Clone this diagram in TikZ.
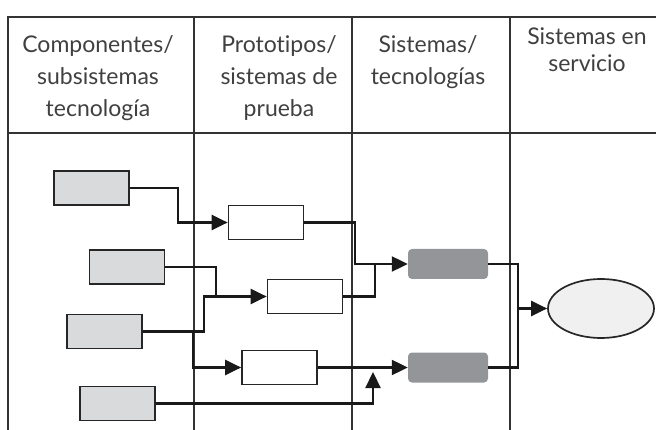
\documentclass[tikz,border=0pt]{standalone}
\usepackage{fontspec}
\setmainfont{Lato}[Ligatures={NoCommon}]
\usetikzlibrary{arrows.meta,shapes.geometric}

\definecolor{compgray}{HTML}{D9DADC}
\definecolor{sistgray}{HTML}{939598}
\definecolor{servgray}{HTML}{F0F0F0}
\definecolor{headtext}{HTML}{404040}

\begin{document}
\begin{tikzpicture}[x=1pt,y=-1pt,
    grid/.style={line width=1.6pt,black!80},
    comp/.style={draw=black!85,line width=1.7pt,fill=compgray,minimum width=75pt,minimum height=34pt,inner sep=0pt},
    proto/.style={draw=black!85,line width=1.7pt,fill=white,minimum width=75pt,minimum height=34pt,inner sep=0pt},
    sist/.style={fill=sistgray,rounded corners=4pt,minimum width=80pt,minimum height=30pt,inner sep=0pt},
    serv/.style={ellipse,draw=black!85,line width=1.7pt,fill=servgray,minimum width=106pt,minimum height=59pt,inner sep=0pt},
    head/.style={align=center,text=headtext,font=\fontsize{23}{32}\selectfont,inner sep=0pt,anchor=north},
    link/.style={line width=2.2pt,black!90},
    flow/.style={link,-{Triangle[length=16pt,width=15pt]}}]

    \useasboundingbox (0,0) rectangle (656,430);

    % Draw the table
    \draw[grid] (8,430) -- (8,17) -- (656,17);
    \draw[grid] (8,133) -- (656,133);
    \foreach \x in {194,352,510}
        \draw[grid] (\x,17) -- (\x,430);

    % Column heads
    \node[head] (h1) at (98,35) {Componentes/\\subsistemas\\tecnología};
    \node[head] (h2) at (279,35) {Prototipos/\\sistemas de\\prueba};
    \node[head] (h3) at (428,35) {Sistemas/\\tecnologías};
    \node[head,font=\fontsize{23}{27}\selectfont] (h4) at (587,28) {Sistemas en\\servicio};

    % Boxes
    \node[comp] (c1) at (91.5,188) {};
    \node[comp] (c2) at (127,267) {};
    \node[comp] (c3) at (104.5,331.5) {};
    \node[comp] (c4) at (117.5,403.5) {};
    \node[proto] (p1) at (266,222.5) {};
    \node[proto] (p2) at (305,296.5) {};
    \node[proto] (p3) at (279.5,367.5) {};
    \node[sist] (s1) at (448,264) {};
    \node[sist] (s2) at (448,367.5) {};
    \node[serv] (e) at (601,308.5) {};

    % Turning points
    \coordinate (j1) at (178,222.5);
    \coordinate (j2) at (216,296.5);
    \coordinate (j3) at (204,296.5);
    \coordinate (j4) at (193,331.5);
    \coordinate (j5) at (355,264);
    \coordinate (j6) at (375,264);
    \coordinate (j7) at (518,308.5);
    \coordinate (tip) at (373,372);

    % Draw the connectors
    \draw[flow] (c1.east) -| (j1) -- (p1.west);
    \draw[flow] (c2.east) -| (j2) -- (p2.west);
    \draw[link] (c3.east) -| (j3) -- (j2);
    \draw[flow] (j4) |- (p3.west);
    \draw[flow] (c4.east) -| (tip);
    \draw[flow] (p1.east) -| (j5) -- (s1.west);
    \draw[link] (p2.east) -| (j6);
    \draw[flow] (p3.east) -- (s2.west);
    \draw[flow] (s1.east) -| (j7) -- (e.west);
    \draw[link] (s2.east) -| (j7);
\end{tikzpicture}
\end{document}
